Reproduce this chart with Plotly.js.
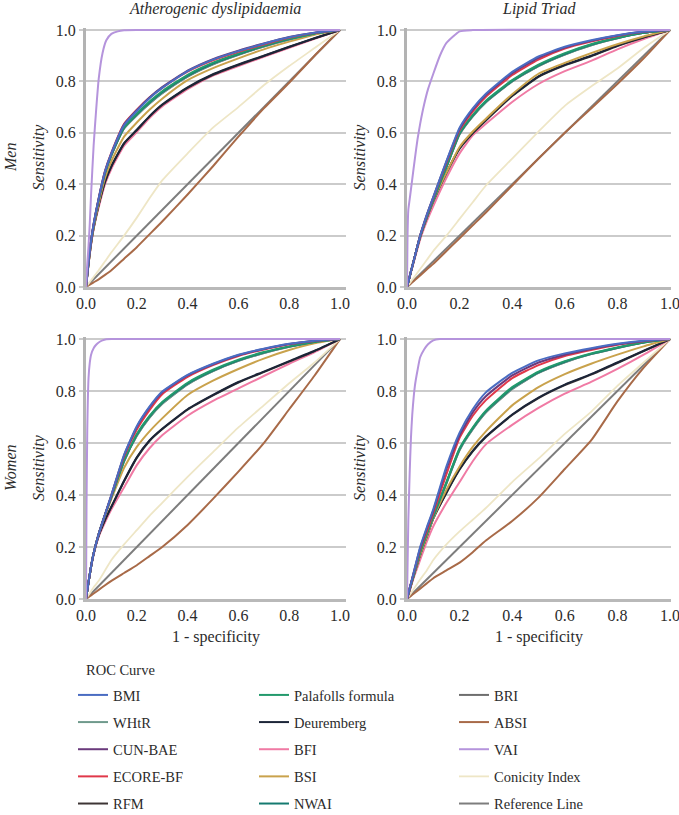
<!DOCTYPE html>
<html>
<head>
<meta charset="utf-8">
<script src="https://cdn.plot.ly/plotly-3.0.1.min.js"></script>
<style>html,body{margin:0;padding:0;background:#fff}#chart{width:679px;height:815px}</style>
</head>
<body>
<div id="chart"></div>
<script>
// ---- DATA ----
// Panels: menAD = Men/Atherogenic dyslipidaemia, menLT = Men/Lipid Triad,
//         womenAD = Women/Atherogenic dyslipidaemia, womenLT = Women/Lipid Triad
const panelKeys = ['menAD', 'menLT', 'womenAD', 'womenLT'];
const colTitles = ['Atherogenic dyslipidaemia', 'Lipid Triad'];
const rowTitles = ['Men', 'Women'];
const tickVals = [0, 0.2, 0.4, 0.6, 0.8, 1.0];

// common 1 - specificity grid for the body-index curves
const fpr = [0, 0.01, 0.02, 0.03, 0.05, 0.075, 0.1, 0.15, 0.2, 0.25, 0.3, 0.4, 0.5, 0.6, 0.7, 0.8, 0.9, 1];
// finer grid for the VAI curve (rises very steeply)
const vaiFpr = [0, 0.002, 0.005, 0.01, 0.015, 0.02, 0.03, 0.04, 0.05, 0.065, 0.08, 0.1, 0.125, 0.15, 0.2, 0.25, 1];

const BMI = {
  menAD:   [0,0.1,0.18,0.245,0.345,0.45,0.52,0.63,0.685,0.735,0.775,0.84,0.885,0.918,0.947,0.972,0.99,1],
  menLT:   [0,0.04,0.08,0.12,0.2,0.28,0.35,0.49,0.62,0.695,0.752,0.837,0.897,0.935,0.96,0.98,0.994,1],
  womenAD: [0,0.065,0.125,0.175,0.25,0.325,0.4,0.555,0.665,0.74,0.798,0.862,0.905,0.94,0.963,0.982,0.994,1],
  womenLT: [0,0.04,0.08,0.12,0.2,0.275,0.345,0.51,0.64,0.73,0.795,0.87,0.918,0.945,0.965,0.982,0.994,1]
};
const WHtR = {
  menAD:   [0,0.1,0.18,0.24,0.34,0.443,0.512,0.617,0.668,0.714,0.754,0.819,0.867,0.904,0.936,0.963,0.986,1],
  menLT:   [0,0.04,0.08,0.12,0.197,0.272,0.338,0.466,0.594,0.664,0.719,0.8,0.86,0.905,0.941,0.968,0.989,1],
  womenAD: [0,0.065,0.125,0.175,0.25,0.325,0.392,0.53,0.628,0.698,0.751,0.826,0.877,0.916,0.946,0.97,0.989,1],
  womenLT: [0,0.04,0.075,0.11,0.18,0.25,0.315,0.445,0.573,0.653,0.718,0.808,0.87,0.911,0.942,0.966,0.987,1]
};
const CUNBAE = {
  menAD:   [0,0.1,0.18,0.245,0.345,0.45,0.52,0.632,0.688,0.738,0.778,0.842,0.887,0.92,0.948,0.973,0.99,1],
  menLT:   [0,0.04,0.08,0.12,0.2,0.28,0.35,0.488,0.615,0.69,0.748,0.832,0.892,0.932,0.958,0.979,0.993,1],
  womenAD: [0,0.065,0.125,0.175,0.25,0.325,0.4,0.553,0.662,0.737,0.795,0.86,0.903,0.938,0.962,0.981,0.994,1],
  womenLT: [0,0.04,0.08,0.12,0.195,0.27,0.34,0.5,0.63,0.718,0.78,0.86,0.91,0.94,0.962,0.98,0.993,1]
};
const ECOREBF = {
  menAD:   [0,0.1,0.18,0.245,0.345,0.452,0.523,0.635,0.69,0.737,0.775,0.838,0.882,0.915,0.944,0.97,0.989,1],
  menLT:   [0,0.04,0.08,0.12,0.2,0.278,0.347,0.483,0.61,0.683,0.74,0.825,0.885,0.928,0.955,0.977,0.993,1],
  womenAD: [0,0.065,0.125,0.175,0.25,0.325,0.398,0.548,0.652,0.727,0.788,0.855,0.9,0.935,0.96,0.98,0.993,1],
  womenLT: [0,0.04,0.08,0.115,0.19,0.26,0.33,0.48,0.62,0.705,0.765,0.85,0.9,0.935,0.958,0.978,0.992,1]
};
const RFM = {
  menAD:   [0,0.09,0.17,0.23,0.32,0.41,0.47,0.558,0.61,0.663,0.708,0.775,0.826,0.864,0.899,0.934,0.968,1],
  menLT:   [0,0.04,0.08,0.12,0.195,0.268,0.333,0.443,0.538,0.598,0.648,0.743,0.818,0.863,0.898,0.938,0.971,1],
  womenAD: [0,0.065,0.125,0.175,0.245,0.305,0.355,0.453,0.543,0.608,0.653,0.728,0.783,0.833,0.873,0.913,0.954,1],
  womenLT: [0,0.035,0.07,0.105,0.17,0.24,0.31,0.408,0.498,0.568,0.623,0.708,0.773,0.823,0.863,0.908,0.954,1]
};
const Palafolls = {
  menAD:   [0,0.1,0.18,0.24,0.34,0.445,0.515,0.622,0.675,0.722,0.762,0.826,0.873,0.909,0.94,0.966,0.987,1],
  menLT:   [0,0.04,0.08,0.12,0.197,0.273,0.34,0.47,0.6,0.67,0.725,0.805,0.865,0.91,0.945,0.97,0.99,1],
  womenAD: [0,0.065,0.125,0.175,0.25,0.325,0.395,0.535,0.635,0.705,0.758,0.832,0.882,0.921,0.95,0.972,0.99,1],
  womenLT: [0,0.04,0.075,0.11,0.18,0.25,0.32,0.45,0.58,0.66,0.725,0.815,0.875,0.915,0.945,0.968,0.988,1]
};
const Deuremberg = {
  menAD:   [0,0.09,0.17,0.23,0.32,0.41,0.47,0.56,0.612,0.665,0.71,0.777,0.828,0.866,0.9,0.935,0.968,1],
  menLT:   [0,0.04,0.08,0.12,0.195,0.27,0.335,0.445,0.54,0.6,0.65,0.745,0.82,0.865,0.9,0.94,0.972,1],
  womenAD: [0,0.065,0.125,0.175,0.245,0.305,0.355,0.455,0.545,0.61,0.655,0.73,0.785,0.835,0.875,0.915,0.955,1],
  womenLT: [0,0.035,0.07,0.105,0.17,0.24,0.31,0.41,0.5,0.57,0.625,0.71,0.775,0.825,0.865,0.91,0.955,1]
};
const BFI = {
  menAD:   [0,0.09,0.165,0.225,0.31,0.4,0.46,0.55,0.603,0.658,0.703,0.77,0.823,0.86,0.896,0.931,0.966,1],
  menLT:   [0,0.038,0.076,0.113,0.185,0.255,0.315,0.425,0.52,0.59,0.635,0.72,0.79,0.84,0.88,0.925,0.965,1],
  womenAD: [0,0.065,0.125,0.17,0.24,0.295,0.345,0.43,0.515,0.58,0.63,0.705,0.762,0.81,0.858,0.905,0.95,1],
  womenLT: [0,0.03,0.065,0.095,0.15,0.22,0.28,0.37,0.45,0.53,0.595,0.67,0.735,0.79,0.835,0.885,0.94,1]
};
const BSI = {
  menAD:   [0,0.09,0.17,0.23,0.325,0.425,0.49,0.585,0.64,0.69,0.733,0.805,0.852,0.89,0.925,0.955,0.982,1],
  menLT:   [0,0.04,0.08,0.12,0.195,0.27,0.335,0.445,0.545,0.605,0.655,0.75,0.83,0.872,0.91,0.945,0.975,1],
  womenAD: [0,0.065,0.125,0.175,0.25,0.32,0.385,0.505,0.585,0.645,0.695,0.785,0.84,0.885,0.925,0.958,0.984,1],
  womenLT: [0,0.035,0.07,0.105,0.17,0.24,0.31,0.42,0.51,0.585,0.645,0.745,0.815,0.865,0.905,0.94,0.972,1]
};
const NWAI = {
  menAD:   [0,0.1,0.18,0.24,0.34,0.445,0.515,0.62,0.672,0.718,0.758,0.822,0.87,0.906,0.938,0.965,0.987,1],
  menLT:   [0,0.04,0.08,0.12,0.197,0.272,0.339,0.468,0.597,0.667,0.722,0.802,0.862,0.907,0.943,0.969,0.989,1],
  womenAD: [0,0.065,0.125,0.175,0.25,0.325,0.393,0.532,0.632,0.702,0.755,0.829,0.879,0.918,0.948,0.971,0.989,1],
  womenLT: [0,0.04,0.075,0.11,0.18,0.25,0.318,0.448,0.577,0.657,0.722,0.812,0.872,0.913,0.943,0.967,0.987,1]
};
const BRI = {
  menAD:   [0,0.1,0.18,0.24,0.34,0.443,0.512,0.617,0.668,0.714,0.754,0.819,0.867,0.904,0.936,0.963,0.986,1],
  menLT:   [0,0.04,0.08,0.12,0.197,0.272,0.338,0.466,0.594,0.664,0.719,0.8,0.86,0.905,0.941,0.968,0.989,1],
  womenAD: [0,0.065,0.125,0.175,0.25,0.325,0.392,0.53,0.628,0.698,0.751,0.826,0.877,0.916,0.946,0.97,0.989,1],
  womenLT: [0,0.04,0.075,0.11,0.18,0.25,0.315,0.445,0.573,0.653,0.718,0.808,0.87,0.911,0.942,0.966,0.987,1]
};
const ABSI = {
  menAD:   [0,0.006,0.012,0.018,0.03,0.047,0.065,0.11,0.155,0.205,0.255,0.36,0.47,0.585,0.695,0.795,0.9,1],
  menLT:   [0,0.009,0.018,0.027,0.045,0.068,0.09,0.14,0.19,0.24,0.29,0.395,0.5,0.6,0.695,0.79,0.89,1],
  womenAD: [0,0.007,0.014,0.021,0.035,0.053,0.07,0.1,0.13,0.165,0.2,0.285,0.385,0.49,0.6,0.73,0.86,1],
  womenLT: [0,0.008,0.016,0.024,0.04,0.06,0.08,0.11,0.14,0.18,0.225,0.3,0.39,0.5,0.61,0.76,0.89,1]
};
const Conicity = {
  menAD:   [0,0.013,0.026,0.039,0.065,0.1,0.135,0.2,0.27,0.345,0.415,0.52,0.62,0.7,0.785,0.86,0.93,1],
  menLT:   [0,0.014,0.028,0.042,0.07,0.105,0.14,0.2,0.265,0.33,0.395,0.5,0.605,0.705,0.78,0.85,0.93,1],
  womenAD: [0,0.015,0.03,0.045,0.07,0.11,0.15,0.21,0.265,0.32,0.37,0.47,0.565,0.66,0.745,0.83,0.91,1],
  womenLT: [0,0.015,0.03,0.045,0.075,0.11,0.15,0.21,0.26,0.305,0.35,0.45,0.54,0.635,0.72,0.82,0.91,1]
};
const VAI = {
  menAD:   [0,0.04,0.09,0.16,0.25,0.36,0.55,0.69,0.81,0.91,0.96,0.985,0.995,0.999,1,1,1],
  menLT:   [0,0.2,0.3,0.34,0.38,0.42,0.5,0.575,0.635,0.71,0.77,0.83,0.9,0.95,0.995,1,1],
  womenAD: [0,0.35,0.65,0.85,0.91,0.94,0.965,0.978,0.987,0.995,0.999,1,1,1,1,1,1],
  womenLT: [0,0.12,0.3,0.48,0.62,0.71,0.82,0.88,0.93,0.96,0.98,0.995,1,1,1,1,1]
};
const refLine = [0, 1];

// ---- SERIES STYLE (drawing order = z order) ----
const series = [
  {name: 'Reference Line',    x: refLine, y: () => refLine, color: '#7d7d7d', w: 2,   leg: 'legend3', rank: 5},
  {name: 'BRI',               x: fpr, y: k => BRI[k],        color: '#6e6e6e', w: 2,   leg: 'legend3', rank: 1},
  {name: 'ABSI',              x: fpr, y: k => ABSI[k],       color: '#a86a48', w: 2,   leg: 'legend3', rank: 2},
  {name: 'Conicity Index',    x: fpr, y: k => Conicity[k],   color: '#eee6c6', w: 1.8, leg: 'legend3', rank: 4},
  {name: 'BFI',               x: fpr, y: k => BFI[k],        color: '#f07aa4', w: 2,   leg: 'legend2', rank: 3},
  {name: 'RFM',               x: fpr, y: k => RFM[k],        color: '#3d3535', w: 2,   leg: 'legend',  rank: 5},
  {name: 'Deuremberg',        x: fpr, y: k => Deuremberg[k], color: '#1c2538', w: 2,   leg: 'legend2', rank: 2},
  {name: 'BSI',               x: fpr, y: k => BSI[k],        color: '#c9a24c', w: 2,   leg: 'legend2', rank: 4},
  {name: 'WHtR',              x: fpr, y: k => WHtR[k],       color: '#6f9a8c', w: 2,   leg: 'legend',  rank: 2},
  {name: 'NWAI',              x: fpr, y: k => NWAI[k],       color: '#157a70', w: 2,   leg: 'legend2', rank: 5},
  {name: 'Palafolls formula', x: fpr, y: k => Palafolls[k],  color: '#239a6c', w: 2,   leg: 'legend2', rank: 1},
  {name: 'ECORE-BF',          x: fpr, y: k => ECOREBF[k],    color: '#e0384a', w: 2,   leg: 'legend',  rank: 4},
  {name: 'CUN-BAE',           x: fpr, y: k => CUNBAE[k],     color: '#6a3a7c', w: 2,   leg: 'legend',  rank: 3},
  {name: 'BMI',               x: fpr, y: k => BMI[k],        color: '#4a6cc2', w: 2,   leg: 'legend',  rank: 1},
  {name: 'VAI',               x: vaiFpr, y: k => VAI[k],     color: '#b594dc', w: 2,   leg: 'legend3', rank: 3}
];

const axisIds = [['x', 'y'], ['x2', 'y2'], ['x3', 'y3'], ['x4', 'y4']];
const data = [];
panelKeys.forEach((k, p) => {
  series.forEach(s => {
    data.push({
      type: 'scatter', mode: 'lines',
      x: s.x, y: s.y(k),
      name: s.name,
      legendgroup: s.name,
      legend: s.leg,
      legendrank: s.rank,
      showlegend: p === 0,
      line: {color: s.color, width: s.w, shape: 'spline', smoothing: 0.5},
      xaxis: axisIds[p][0], yaxis: axisIds[p][1],
      hoverinfo: 'skip'
    });
  });
});

// ---- LAYOUT ----
const W = 679, H = 815;
const serif = '"Liberation Serif", "Times New Roman", serif';
const txt = '#2b2b2b';
const pxX = (a, b) => [a / W, b / W];
const pxY = (top, bottom) => [1 - bottom / H, 1 - top / H];

function xax(domain, range, anchor, showTitle) {
  return {
    domain: domain, range: range, anchor: anchor,
    tickvals: tickVals, tickformat: '.1f', ticks: '',
    ticklabeloverflow: 'allow',
    showgrid: false, zeroline: false,
    showline: true, linecolor: '#b9b9b9', linewidth: 2.5,
    tickfont: {family: serif, size: 16, color: txt},
    fixedrange: true,
    title: showTitle ? {text: '1 - specificity', font: {family: serif, size: 16, color: txt}, standoff: 8} : {text: ''}
  };
}
function yax(domain, anchor) {
  return {
    domain: domain, range: [0, 1.008], anchor: anchor,
    tickvals: tickVals, tickformat: '.1f',
    ticks: 'outside', ticklen: 4, tickwidth: 2, tickcolor: '#cbcbcb',
    showgrid: true, gridcolor: '#cbcbcb', gridwidth: 2,
    zeroline: false,
    showline: true, linecolor: '#b3b3b3', linewidth: 3,
    tickfont: {family: serif, size: 16, color: txt},
    fixedrange: true,
    title: {text: 'Sensitivity', font: {family: serif, size: 16, color: txt, style: 'italic'}, standoff: 8}
  };
}

const leftX = pxX(86, 346), rightX = pxX(407, 671);
const topY = pxY(28, 287), botY = pxY(337, 599);
const leftRange = [0, 260 / 254], rightRange = [0, 264 / 263];

const legendBase = {
  font: {family: serif, size: 14.5, color: txt},
  bgcolor: 'rgba(0,0,0,0)', borderwidth: 0,
  orientation: 'v', xanchor: 'left', yanchor: 'top',
  y: 1 - 679 / H, tracegroupgap: 5.3, itemwidth: 30, itemclick: false, itemdoubleclick: false
};

const annFont = {family: serif, size: 16, color: txt, style: 'italic'};
const layout = {
  width: W, height: H,
  margin: {l: 0, r: 0, t: 0, b: 0, autoexpand: false},
  paper_bgcolor: '#fff', plot_bgcolor: '#fff',
  xaxis:  xax(leftX, leftRange, 'y', false),
  yaxis:  yax(topY, 'x'),
  xaxis2: xax(rightX, rightRange, 'y2', false),
  yaxis2: yax(topY, 'x2'),
  xaxis3: xax(leftX, leftRange, 'y3', true),
  yaxis3: yax(botY, 'x3'),
  xaxis4: xax(rightX, rightRange, 'y4', true),
  yaxis4: yax(botY, 'x4'),
  legend:  Object.assign({}, legendBase, {x: 73 / W}),
  legend2: Object.assign({}, legendBase, {x: 254 / W}),
  legend3: Object.assign({}, legendBase, {x: 454 / W}),
  annotations: [
    {text: colTitles[0], x: 215 / W, y: 1 - 9 / H, xref: 'paper', yref: 'paper', xanchor: 'center', yanchor: 'middle',
     showarrow: false, font: annFont},
    {text: colTitles[1], x: 538.5 / W, y: 1 - 9 / H, xref: 'paper', yref: 'paper', xanchor: 'center', yanchor: 'middle',
     showarrow: false, font: annFont},
    {text: rowTitles[0], x: 10 / W, y: 1 - 158 / H, xref: 'paper', yref: 'paper', xanchor: 'center', yanchor: 'middle',
     showarrow: false, textangle: -90, font: annFont},
    {text: rowTitles[1], x: 10 / W, y: 1 - 468 / H, xref: 'paper', yref: 'paper', xanchor: 'center', yanchor: 'middle',
     showarrow: false, textangle: -90, font: annFont},
    {text: 'ROC Curve', x: 84 / W, y: 1 - 670 / H, xref: 'paper', yref: 'paper', xanchor: 'left', yanchor: 'middle',
     showarrow: false, font: {family: serif, size: 14.5, color: txt}}
  ],
  showlegend: true
};

Plotly.newPlot('chart', data, layout, {displayModeBar: false, responsive: false});
</script>
</body>
</html>
